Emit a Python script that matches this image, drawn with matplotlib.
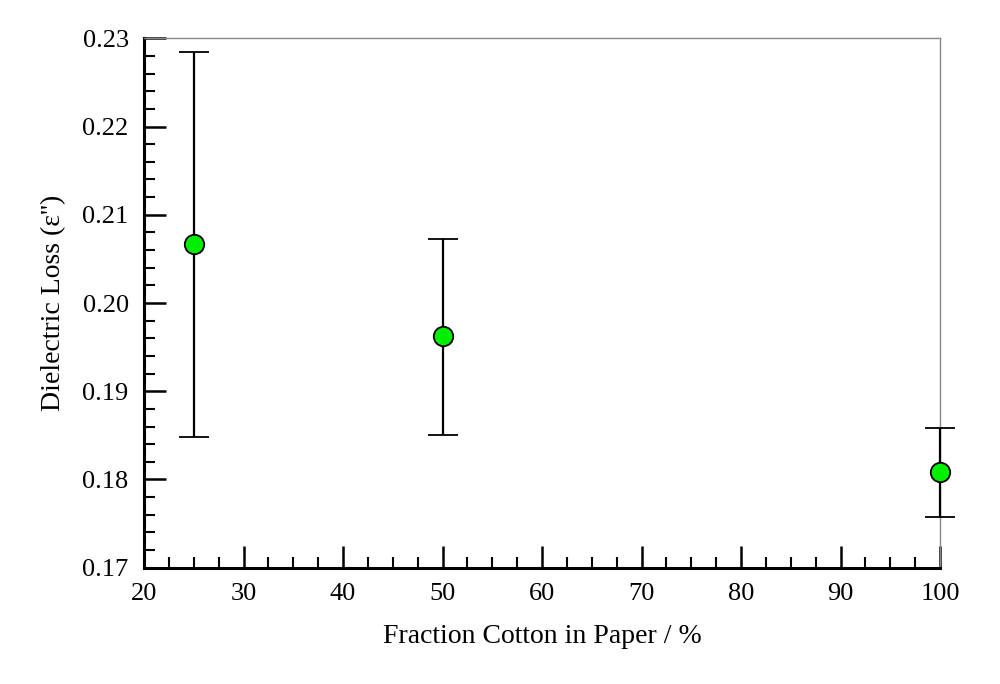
import matplotlib.pyplot as plt
from matplotlib.ticker import MultipleLocator

cotton = [25, 50, 100]
loss = [0.2067, 0.1963, 0.1809]
err_low = [0.1848, 0.1850, 0.1757]
err_high = [0.2284, 0.2073, 0.1858]

plt.rcParams['font.family'] = ['Liberation Serif', 'DejaVu Serif']

fig = plt.figure(figsize=(10, 6.84), dpi=100)
ax = fig.add_axes([0.144, 0.170, 0.796, 0.774])

yerr = [[l - lo for l, lo in zip(loss, err_low)],
        [hi - l for l, hi in zip(loss, err_high)]]
ax.errorbar(cotton, loss, yerr=yerr, fmt='o', color='black', ecolor='black',
            elinewidth=1.6, capsize=11, capthick=1.6,
            marker='o', markersize=14, markerfacecolor='#00ee00',
            markeredgecolor='black', markeredgewidth=1.3, zorder=3, clip_on=False)

ax.set_xlim(20, 100)
ax.set_ylim(0.17, 0.23)
ax.xaxis.set_major_locator(MultipleLocator(10))
ax.xaxis.set_minor_locator(MultipleLocator(2.5))
ax.yaxis.set_major_locator(MultipleLocator(0.01))
ax.yaxis.set_minor_locator(MultipleLocator(0.002))
ax.yaxis.set_major_formatter(plt.FuncFormatter(lambda v, p: f"{v:.2f}"))

for s in ['left', 'bottom']:
    ax.spines[s].set_linewidth(2.2)
    ax.spines[s].set_color('black')
for s in ['top', 'right']:
    ax.spines[s].set_linewidth(1)
    ax.spines[s].set_color('#888888')

ax.tick_params(which='major', direction='in', length=16, width=1.8, labelsize=19,
               top=False, right=False)
ax.tick_params(axis='x', which='major', pad=11)
ax.tick_params(axis='y', which='major', pad=11)
ax.tick_params(which='minor', direction='in', length=8, width=1.5,
               top=False, right=False)

ax.set_xlabel("Fraction Cotton in Paper / %", fontsize=20, labelpad=14)
ax.set_ylabel("Dielectric Loss (ε'')", fontsize=20, labelpad=12)

fig.savefig("out.png", dpi=100)
